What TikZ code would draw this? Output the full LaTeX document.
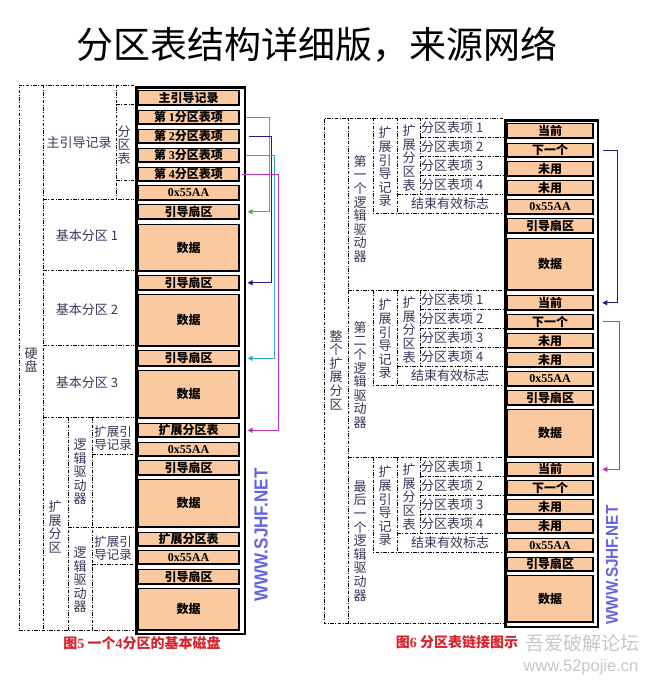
\documentclass[tikz,border=0pt]{standalone}
\usepackage{fontspec}
\setmainfont{Noto Sans CJK SC}
\newfontfamily\serifnum{Liberation Serif}
\newfontfamily\wmfont{Liberation Sans}
\usetikzlibrary{arrows.meta}
\definecolor{peach}{RGB}{250,201,160}
\definecolor{lbl}{RGB}{55,55,90}
\definecolor{capred}{RGB}{215,35,45}
\definecolor{wmblue}{RGB}{100,100,230}
\definecolor{agreen}{RGB}{60,195,60}
\definecolor{anavy}{RGB}{30,30,130}
\definecolor{ateal}{RGB}{50,170,200}
\definecolor{amag}{RGB}{190,50,190}
\newcommand\lb[4]{\node[lbox, minimum height={#3-#2-1.6}, anchor=north] (#1) at (188.5,#2+0.8) {#4};}
\newcommand\rbx[4]{\node[rbox, minimum height={#3-#2-1.6}, anchor=north] (#1) at (550,#2+0.8) {#4};}
\begin{document}
\begin{tikzpicture}[x=1pt,y=-1pt,
 box/.style={draw, line width=1.6pt, fill=peach, inner sep=0pt, font=\fontsize{12}{12}\selectfont\bfseries},
 lbox/.style={box, minimum width=101.4pt},
 rbox/.style={box, minimum width=86.4pt},
 frame/.style={draw, line width=2.6pt, inner sep=0pt},
 dd/.style={line width=0.7pt, dash pattern=on 3.5pt off 1.5pt on 1pt off 1.5pt},
 lab/.style={text=lbl, font=\fontsize{13}{13.6}\selectfont, inner sep=0pt, align=center},
 link/.style={line width=1pt, -{Triangle[length=5pt,width=5pt]}},
 wm/.style={rotate=90, text=wmblue, inner sep=0pt}
]
\useasboundingbox (0,0) rectangle (646,682);
\fill[white] (0,0) rectangle (646,682);

% title
\node[font=\fontsize{37}{40}\selectfont] (title) at (317,45) {分区表结构详细版，来源网络};

% ===== left figure =====
\node[frame, minimum width=108.4pt, minimum height=546.4pt, anchor=north west] (fL) at (135.3,86.3) {};
\lb{m0}{89}{105}{主引导记录}
\lb{e1}{109}{124}{第 {\serifnum 1}分区表项}
\lb{e2}{128}{143}{第 {\serifnum 2}分区表项}
\lb{e3}{147}{162}{第 {\serifnum 3}分区表项}
\lb{e4}{166}{181}{第 {\serifnum 4}分区表项}
\lb{s0}{184}{200}{\serifnum 0x55AA}
\lb{b1}{203}{219}{引导扇区}
\lb{d1}{223}{271}{数据}
\lb{b2}{274}{290}{引导扇区}
\lb{d2}{293}{346}{数据}
\lb{b3}{349}{366}{引导扇区}
\lb{d3}{369}{418}{数据}
\lb{x1}{422}{437}{扩展分区表}
\lb{s1}{441}{456}{\serifnum 0x55AA}
\lb{b4}{459}{475}{引导扇区}
\lb{d4}{478}{527}{数据}
\lb{x2}{531}{546}{扩展分区表}
\lb{s2}{549}{564}{\serifnum 0x55AA}
\lb{b5}{568}{584}{引导扇区}
\lb{d5}{587}{630}{数据}

% dashed structure left
\draw[dd] (134,85) -- (19,85) -- (19,630) -- (134,630);
\draw[dd] (43,85) -- (43,630);
\draw[dd] (116,85) -- (116,199);
\draw[dd] (116,104) -- (134,104);
\draw[dd] (116,180) -- (134,180);
\draw[dd] (43,199) -- (134,199);
\draw[dd] (43,270) -- (134,270);
\draw[dd] (43,345) -- (134,345);
\draw[dd] (43,417) -- (134,417);
\draw[dd] (68,417) -- (68,630);
\draw[dd] (92,417) -- (92,630);
\draw[dd] (92,454) -- (134,454);
\draw[dd] (68,527) -- (134,527);
\draw[dd] (92,564) -- (134,564);

\node[lab] (ldisk) at (31,360) {硬\\盘};
\node[lab] (lmbr) at (79,143) {主引导记录};
\node[lab] (lpt) at (124,145) {分\\区\\表};
\node[lab] (lp1) at (87,236) {基本分区 1};
\node[lab] (lp2) at (87,310) {基本分区 2};
\node[lab] (lp3) at (87,383) {基本分区 3};
\node[lab] (lext) at (55,527) {扩\\展\\分\\区};
\node[lab] (lld1) at (80,472) {逻\\辑\\驱\\动\\器};
\node[lab] (lld2) at (80,580) {逻\\辑\\驱\\动\\器};
\node[lab, font=\fontsize{12.5}{13}\selectfont] (lebr1) at (113,438) {扩展引\\导记录};
\node[lab, font=\fontsize{12.5}{13}\selectfont] (lebr2) at (113,548) {扩展引\\导记录};

% left links
\draw[link, agreen, shorten >=1.3pt] (e1.east -| fL.east) -- ++(23,0) |- (b1.east -| fL.east);
\draw[link, anavy, shorten >=1.3pt] ([xshift=3pt]e2.east -| fL.east) -- ++(22,0) |- (b2.east -| fL.east);
\draw[link, ateal, shorten >=1.3pt] (e3.east -| fL.east) -- ++(28,0) |- (b3.east -| fL.east);
\draw[link, amag, shorten >=1.3pt] ([xshift=-4pt]e4.east -| fL.east) -- ++(36,0) |- (x1.east -| fL.east);

\node[wm, font=\wmfont\fontsize{19}{20}\selectfont\bfseries] (wmL) at (261,535) {\scalebox{0.9}[1]{WWW.SJHF.NET}};
\node[text=capred, font=\fontsize{14}{15}\selectfont\bfseries] (cap5) at (142,643) {图{\serifnum 5}\ 一个{\serifnum 4}分区的基本磁盘};

% ===== right figure =====
\node[frame, minimum width=92.4pt, minimum height=506.4pt, anchor=north west] (fR) at (504.3,119.3) {};
\rbx{c1}{122}{138}{当前}
\rbx{n1}{142}{157}{下一个}
\rbx{ua1}{160}{176}{未用}
\rbx{ub1}{179}{195}{未用}
\rbx{k1}{198}{214}{\serifnum 0x55AA}
\rbx{g1}{217}{233}{引导扇区}
\rbx{r1}{237}{290}{数据}
\rbx{c2}{294}{310}{当前}
\rbx{n2}{313}{329}{下一个}
\rbx{ua2}{332}{348}{未用}
\rbx{ub2}{351}{367}{未用}
\rbx{k2}{370}{386}{\serifnum 0x55AA}
\rbx{g2}{389}{405}{引导扇区}
\rbx{r2}{408}{457}{数据}
\rbx{c3}{461}{476}{当前}
\rbx{n3}{479}{495}{下一个}
\rbx{ua3}{498}{514}{未用}
\rbx{ub3}{518}{533}{未用}
\rbx{k3}{537}{552}{\serifnum 0x55AA}
\rbx{g3}{556}{571}{引导扇区}
\rbx{r3}{574}{622}{数据}

\draw[dd] (503,118) -- (324,118) -- (324,623) -- (503,623);
\draw[dd] (348,118) -- (348,623);
\draw[dd] (348,290) -- (503,290);
\draw[dd] (348,457) -- (503,457);
\foreach \T/\nm in {118/1, 290/2, 457/3}{
  \draw[dd] (373,\T) -- (373,\T+95) -- (503,\T+95);
  \draw[dd] (397,\T) -- (397,\T+95);
  \draw[dd] (420,\T) -- (420,\T+76);
  \draw[dd] (420,\T+19) -- (503,\T+19);
  \draw[dd] (420,\T+38) -- (503,\T+38);
  \draw[dd] (420,\T+57) -- (503,\T+57);
  \draw[dd] (397,\T+76) -- (503,\T+76);
  \node[lab] (rebr\nm) at (385,\T+49) {扩\\展\\引\\导\\记\\录};
  \node[lab] (rept\nm) at (409,\T+40) {扩\\展\\分\\区\\表};
  \node[lab, anchor=west] (rpa\nm) at (421,\T+9.5) {分区表项 1};
  \node[lab, anchor=west] (rpb\nm) at (421,\T+28.5) {分区表项 2};
  \node[lab, anchor=west] (rpc\nm) at (421,\T+47.5) {分区表项 3};
  \node[lab, anchor=west] (rpd\nm) at (421,\T+66.5) {分区表项 4};
  \node[lab] (rend\nm) at (450,\T+85.5) {结束有效标志};
}
\node[lab] (rwhole) at (336,370) {整\\个\\扩\\展\\分\\区};
\node[lab] (rld1) at (360,209) {第\\一\\个\\逻\\辑\\驱\\动\\器};
\node[lab] (rld2) at (360,375) {第\\二\\个\\逻\\辑\\驱\\动\\器};
\node[lab] (rld3) at (360,541) {最\\后\\一\\个\\逻\\辑\\驱\\动\\器};

% right links
\draw[link, anavy, shorten >=3pt] ([xshift=4pt]n1.east -| fR.east) -- ++(14,0) |- (c2.east -| fR.east);
\draw[link, amag, shorten >=3pt] ([xshift=4pt]n2.east -| fR.east) -- ++(16,0) |- (c3.east -| fR.east);

\node[wm, font=\wmfont\fontsize{17}{18}\selectfont\bfseries] (wmR) at (612,565) {\scalebox{0.9}[1]{WWW.SJHF.NET}};
\node[text=capred, font=\fontsize{14}{15}\selectfont\bfseries] (cap6) at (457,642) {图{\serifnum 6}\ 分区表链接图示};

% site watermark
\node[text=black!22, font=\fontsize{19}{20}\selectfont] (wsite1) at (582,643) {吾爱破解论坛};
\node[text=black!22, font=\wmfont\fontsize{16.5}{18}\selectfont] (wsite2) at (581,667) {www.52pojie.cn};
\end{tikzpicture}
\end{document}
